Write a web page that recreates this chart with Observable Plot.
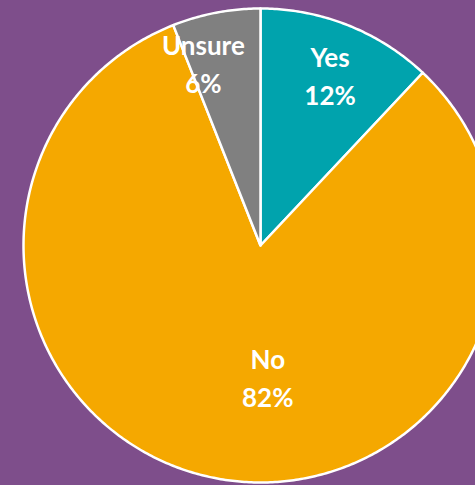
<!DOCTYPE html>
<html>
<head>
<meta charset="utf-8">
<script src="https://cdn.jsdelivr.net/npm/d3@7"></script>
<script src="https://cdn.jsdelivr.net/npm/@observablehq/plot@0.6"></script>
<style>
  html, body { margin: 0; padding: 0; background: #7E4E8B; }
  #chart svg { display: block; }
</style>
</head>
<body>
<div id="chart"></div>
<script>
// Data
const categories = ["Yes", "No", "Unsure"];
const values = [12, 82, 6];
const labels = ["12%", "82%", "6%"];

// Styles / layout (kept separate from data)
const colors = ["#00A3AD", "#F5A800", "#808080"];
const labelRadius = [0.78, 0.55, 0.81];   // fraction of pie radius
const labelAngleShift = [0.5, -14, -6.5]; // degrees, added to slice mid-angle
const R = 237;

const pie = d3.pie().sort(null).value(d => d.value);
const rows = categories.map((c, i) => ({category: c, value: values[i], label: labels[i], i}));
const arcs = pie(rows);

// polygon points for each slice, derived from pie angles
const slicePts = [];
arcs.forEach(a => {
  const n = Math.max(4, Math.ceil((a.endAngle - a.startAngle) / 0.01));
  slicePts.push({category: a.data.category, x: 0, y: 0});
  for (let k = 0; k <= n; k++) {
    const t = a.startAngle + (a.endAngle - a.startAngle) * k / n;
    slicePts.push({category: a.data.category, x: R * Math.sin(t), y: R * Math.cos(t)});
  }
});

const labelRows = arcs.map(a => {
  const i = a.data.i;
  const t = (a.startAngle + a.endAngle) / 2 + labelAngleShift[i] * Math.PI / 180;
  const r = R * labelRadius[i];
  return {x: r * Math.sin(t), y: r * Math.cos(t), text: a.data.category + "\n" + a.data.label};
});

const chart = Plot.plot({
  width: 475,
  height: 485,
  margin: 0,
  style: {background: "#7E4E8B", overflow: "hidden"},
  x: {domain: [-260, 215], axis: null},
  y: {domain: [-240, 245], axis: null},
  color: {domain: categories, range: colors},
  marks: [
    Plot.line(slicePts, {x: "x", y: "y", z: "category", fill: "category", stroke: "white", strokeWidth: 2.5, curve: "linear-closed", strokeLinejoin: "round"}),
    Plot.text(labelRows, {x: "x", y: "y", text: "text", fill: "white", fontSize: 26, fontWeight: "bold", fontFamily: "Lato", lineHeight: 1.45})
  ]
});
document.getElementById("chart").appendChild(chart);
</script>
</body>
</html>
